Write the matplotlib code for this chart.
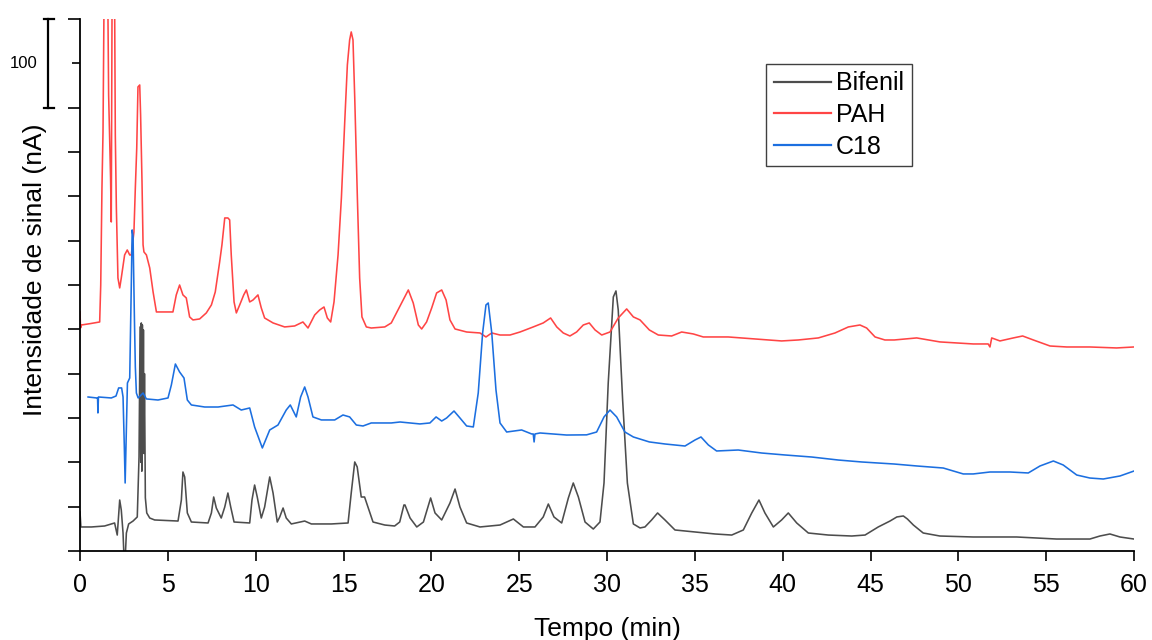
import numpy as np
import matplotlib
matplotlib.use("Agg")
import matplotlib.pyplot as plt
from matplotlib.lines import Line2D
import matplotlib.transforms as mtransforms

plt.rcParams['font.family'] = ['Liberation Sans', 'DejaVu Sans']

# ---------------- data (time in min, signal in nA, offsets as displayed) -------------
series_names = ["Bifenil", "PAH", "C18"]
series_colors = ["#4d4d4d", "#ff4545", "#1c6fe0"]

bifenil_t = [0.00, 0.05, 0.65, 1.40, 1.97, 2.12, 2.26, 2.35, 2.45, 2.50, 2.58, 2.64, 2.77, 3.02,
             3.26, 3.36, 3.42, 3.46, 3.49, 3.52, 3.55, 3.58, 3.61, 3.64, 3.67, 3.72, 3.80, 3.97,
             4.25, 5.58, 5.77, 5.86, 5.96, 6.11, 6.34, 7.29, 7.48, 7.61, 7.76, 8.04, 8.24, 8.42,
             8.58, 8.77, 9.66, 9.79, 9.94, 10.09, 10.32, 10.51, 10.80, 10.99, 11.23, 11.37, 11.56,
             11.74, 12.03, 12.79, 13.17, 14.31, 15.26, 15.44, 15.64, 15.78, 16.01, 16.20, 16.39,
             16.68, 17.35, 17.91, 18.20, 18.44, 18.50, 18.79, 19.17, 19.55, 19.96, 20.21, 20.59,
             21.06, 21.35, 21.63, 22.01, 22.77, 23.91, 24.67, 25.24, 25.90, 26.37, 26.66, 26.98,
             27.42, 27.80, 28.08, 28.37, 28.75, 29.22, 29.60, 29.83, 30.07, 30.36, 30.51, 30.64,
             30.89, 31.16, 31.50, 31.88, 32.16, 32.54, 32.88, 33.30, 33.87, 35.01, 36.15, 37.10,
             37.76, 38.24, 38.65, 38.99, 39.47, 39.94, 40.32, 40.80, 41.46, 42.60, 43.93, 44.69,
             45.44, 46.11, 46.50, 46.87, 47.10, 47.44, 48.00, 48.95, 50.85, 53.32, 55.60, 57.49,
             58.06, 58.63, 59.20, 60.00]
bifenil_y = [44.0, 27.1, 27.1, 28.2, 31.6, 18.0, 57.5, 46.2, 20.3, -5.0, -5.0, 20.3, 30.5, 33.8,
             38.4, 106.0, 252.7, 100.0, 257.2, 90.0, 255.0, 120.0, 249.3, 110.0, 200.0, 60.0, 42.9, 37.2,
             35.0, 33.8, 57.5, 89.1, 83.5, 42.9, 32.7, 31.6, 42.9, 60.9, 48.5, 37.2, 49.6, 65.4,
             49.6, 32.7, 31.6, 57.5, 74.4, 60.9, 37.2, 49.6, 83.5, 65.4, 32.7, 38.4, 48.5,
             37.2, 30.5, 33.8, 30.5, 30.5, 31.6, 65.4, 100.4, 94.8, 60.9, 60.9, 49.6,
             32.7, 29.3, 28.2, 32.7, 51.9, 51.9, 37.2, 27.1, 32.7, 59.8, 42.9, 35.0,
             54.1, 69.9, 49.6, 31.6, 27.1, 29.3, 36.1, 27.1, 27.1, 38.4, 53.0, 38.4,
             31.6, 59.8, 76.7, 60.9, 32.7, 24.8, 32.7, 76.7, 189.5, 286.5, 293.3, 271.8,
             170.3, 76.7, 30.5, 26.0, 27.1, 35.0, 42.9, 35.0, 23.7, 21.4, 19.2, 18.0,
             23.7, 42.9, 57.5, 42.9, 27.1, 35.0, 42.9, 31.6, 20.3, 18.0, 16.9, 18.0,
             27.1, 33.8, 38.4, 39.5, 36.1, 29.3, 20.3, 16.9, 15.8, 15.8, 13.5, 13.5,
             16.9, 19.2, 15.8, 13.5]

pah_t = [0.00, 0.03, 0.08, 0.60, 1.12, 1.18, 1.25, 1.31, 1.40, 1.55, 1.63, 1.69, 1.74, 1.78,
         1.84, 1.95, 2.01, 2.07, 2.16, 2.26, 2.35, 2.54, 2.69, 2.83, 2.92, 3.07, 3.15, 3.23,
         3.30, 3.40, 3.45, 3.53, 3.59, 3.64, 3.78, 3.97, 4.16, 4.35, 4.82, 5.29, 5.48, 5.67,
         5.86, 6.05, 6.24, 6.43, 6.81, 7.19, 7.48, 7.70, 7.95, 8.08, 8.24, 8.42, 8.52, 8.61,
         8.77, 8.90, 9.09, 9.32, 9.47, 9.66, 9.85, 10.13, 10.32, 10.51, 10.99, 11.65, 12.22,
         12.69, 12.98, 13.36, 13.64, 13.89, 14.08, 14.27, 14.46, 14.69, 14.88, 15.07, 15.22,
         15.35, 15.44, 15.54, 15.64, 15.79, 15.92, 16.05, 16.30, 16.58, 17.35, 17.72, 18.10,
         18.40, 18.69, 18.97, 19.26, 19.45, 19.73, 20.02, 20.30, 20.59, 20.84, 21.06, 21.35,
         22.01, 22.77, 23.11, 23.44, 23.91, 24.48, 25.05, 25.80, 26.37, 26.79, 27.14, 27.51,
         27.89, 28.27, 28.65, 28.99, 29.32, 29.70, 30.17, 30.64, 31.12, 31.50, 31.88, 32.41,
         32.92, 33.68, 34.25, 34.91, 35.48, 36.90, 38.42, 39.94, 40.89, 42.03, 42.98, 43.74,
         44.40, 44.78, 45.26, 45.82, 46.35, 47.63, 48.95, 49.91, 50.85, 51.70, 51.80, 51.90,
         52.37, 53.13, 53.66, 54.27, 55.22, 56.17, 57.49, 59.01, 60.00]
pah_y = [269.6, 251.5, 254.9, 256.5, 258.3, 300.0, 409.5, 472.6, 700.0, 700.0, 514.4, 461.4, 420.7, 371.1,
         700.0, 700.0, 469.2, 386.9, 307.9, 296.7, 307.9, 333.9, 339.5, 333.9, 333.9, 359.8, 409.5, 454.6,
         523.4, 525.6, 491.8, 416.2, 345.2, 337.3, 333.9, 319.2, 292.2, 269.6, 269.6, 269.6, 288.8, 300.0,
         288.8, 285.4, 264.0, 260.6, 261.7, 268.5, 277.5, 292.2, 326.0, 345.2, 375.6, 375.6, 373.4, 333.9,
         280.9, 268.5, 277.5, 288.8, 294.4, 280.9, 283.1, 288.8, 274.1, 262.8, 257.2, 252.7, 253.8,
         258.3, 251.5, 266.2, 271.8, 275.2, 262.8, 258.3, 280.9, 333.9, 398.2, 483.9, 548.2,
         576.4, 585.4, 576.4, 511.0, 398.2, 307.9, 264.0, 252.7, 251.5, 252.7, 257.2, 271.8,
         283.1, 294.4, 279.7, 254.9, 250.4, 258.3, 274.1, 291.0, 294.4, 283.1, 260.6, 250.4,
         247.0, 245.9, 241.4, 245.9, 243.6, 243.6, 247.0, 252.7, 257.2, 262.8, 252.7, 245.9,
         242.5, 247.0, 254.9, 257.2, 249.3, 243.6, 247.0, 262.8, 273.0, 264.0, 260.6, 249.3,
         243.6, 242.5, 247.0, 244.8, 241.4, 241.4, 239.1, 236.9, 238.0, 240.3, 245.9, 252.7,
         254.9, 251.5, 241.4, 238.0, 238.0, 240.3, 235.8, 234.6, 233.5, 233.5, 230.1, 240.3,
         236.9, 240.3, 242.5, 238.0, 231.2, 230.1, 230.1, 229.0, 230.1]

c18_t = [0.46, 0.95, 1.00, 1.02, 1.05, 1.78, 2.05, 2.20, 2.37, 2.45, 2.52, 2.57, 2.62, 2.70,
         2.83, 2.92, 2.97, 3.02, 3.10, 3.15, 3.21, 3.31, 3.59, 3.78, 4.44, 5.01, 5.20, 5.43,
         5.67, 5.92, 6.11, 6.34, 7.10, 7.86, 8.71, 9.18, 9.66, 9.94, 10.38, 10.80, 11.27, 11.74,
         11.97, 12.31, 12.56, 12.79, 12.98, 13.26, 13.74, 14.50, 14.97, 15.35, 15.73, 16.11,
         16.58, 17.72, 18.22, 19.35, 19.92, 20.27, 20.59, 20.87, 21.29, 21.63, 22.01, 22.39,
         22.67, 22.92, 23.11, 23.24, 23.44, 23.68, 23.91, 24.29, 25.14, 25.71, 25.80, 25.85,
         25.90, 26.19, 27.70, 28.84, 29.41, 29.83, 30.17, 30.55, 31.02, 31.50, 32.41, 33.30,
         34.44, 35.01, 35.35, 35.77, 36.24, 37.47, 38.81, 40.13, 41.65, 43.17, 44.50, 46.35,
         47.63, 49.14, 50.28, 50.85, 51.80, 52.94, 53.98, 54.65, 55.41, 55.97, 56.74, 57.49,
         58.25, 59.20, 60.00]
c18_y = [173.7, 172.6, 172.6, 155.7, 173.7, 172.6, 174.8, 183.9, 183.9, 173.7, 120.0, 76.7, 120.0, 189.5,
         195.1, 300.0, 362.1, 355.0, 260.0, 207.6, 178.2, 172.6, 178.2, 171.5, 170.3, 172.6, 187.2, 210.9,
         201.9, 195.1, 170.3, 164.7, 162.4, 162.4, 164.7, 159.0, 161.3, 139.9, 116.2, 136.5, 142.1, 159.0,
         164.7, 151.2, 173.7, 185.0, 173.7, 151.2, 147.8, 147.8, 153.4, 151.2, 142.1, 141.0,
         144.4, 144.4, 145.5, 143.3, 144.4, 151.2, 146.6, 150.0, 157.9, 150.0, 141.0, 139.9,
         178.2, 245.9, 277.5, 279.7, 245.9, 181.6, 144.4, 134.2, 136.5, 132.0, 132.0, 123.0,
         132.0, 133.1, 130.8, 131.0, 134.2, 151.2, 159.0, 151.2, 134.2, 128.6, 123.0, 120.7,
         118.4, 125.2, 128.6, 119.6, 112.8, 113.9, 110.5, 108.3, 106.0, 102.6, 100.4, 98.1,
         95.9, 93.6, 86.9, 86.9, 89.1, 89.1, 88.0, 95.9, 101.5, 97.0, 85.7, 82.3,
         81.2, 84.6, 90.2]

x_ticks = [0, 5, 10, 15, 20, 25, 30, 35, 40, 45, 50, 55, 60]
scale_bar_value = 100  # nA

# ---------------- figure ----------------
W, H = 1152, 640
fig = plt.figure(figsize=(W / 100, H / 100), dpi=100)
ax = fig.add_axes([80 / W, 1 - 551 / H, (1134 - 80) / W, (551 - 19) / H])

series = [(bifenil_t, bifenil_y), (pah_t, pah_y), (c18_t, c18_y)]
handles = []
for (t, y), name, col in zip(series, series_names, series_colors):
    h, = ax.plot(t, y, color=col, lw=1.15, label=name, solid_joinstyle='round')
    handles.append(h)

ax.set_xlim(0, 60)
ax.set_ylim(0, 600)
ax.set_xticks(x_ticks)
ax.set_xticklabels([str(v) for v in x_ticks])
ax.set_yticks([0, 50, 100, 150, 200, 250, 300, 350, 400, 450, 500, 600])
ax.set_yticks([550], minor=True)
ax.set_yticklabels([])
ax.tick_params(axis='x', direction='out', length=7.2, width=1.2, labelsize=18, pad=9)
ax.tick_params(axis='y', which='major', direction='out', length=8.6, width=1.2)
ax.tick_params(axis='y', which='minor', direction='out', length=5.8, width=1.2)
ax.tick_params(axis='x', which='minor', bottom=False)
for s in ['top', 'right']:
    ax.spines[s].set_visible(False)
for s in ['left', 'bottom']:
    ax.spines[s].set_linewidth(1.3)

ax.set_xlabel("Tempo (min)", fontsize=19, labelpad=14)
fig.text(35 / W, 1 - 270 / H, "Intensidade de sinal (nA)", rotation=90,
         ha='center', va='center', fontsize=19)

# scale bar (100 nA)
tr = mtransforms.blended_transform_factory(fig.transFigure, ax.transData)
xb = 48 / W
top = 600
bot = top - scale_bar_value
fig.add_artist(Line2D([xb, xb], [bot, top], transform=tr, color='black', lw=1.6))
fig.add_artist(Line2D([44 / W, 54 / W], [top, top], transform=tr, color='black', lw=1.6))
fig.add_artist(Line2D([44 / W, 54 / W], [bot, bot], transform=tr, color='black', lw=1.6))
fig.text(24 / W, top - scale_bar_value / 2, str(scale_bar_value), transform=tr,
         fontsize=12, ha='center', va='center')

leg = fig.legend(handles=handles, labels=series_names, loc='upper left',
                 bbox_to_anchor=(766 / W, 1 - 64 / H), fontsize=18, frameon=True,
                 fancybox=False, framealpha=1, edgecolor='#404040', borderpad=0.3,
                 handlelength=2.3, handletextpad=0.2, labelspacing=0.3, borderaxespad=0)
leg.get_frame().set_linewidth(1.0)
for l in leg.get_lines():
    l.set_linewidth(1.6)

fig.savefig("out.png", dpi=100)
